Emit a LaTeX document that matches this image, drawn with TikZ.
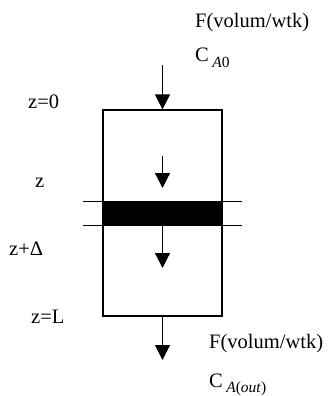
\documentclass[tikz,border=0pt]{standalone}
\usepackage{fontspec}
\setmainfont{Liberation Serif}
\usepackage{tikz}
\usetikzlibrary{positioning,arrows.meta}

\newcommand{\subtxt}[1]{\raisebox{-0.55ex}{\fontsize{15.5}{18}\selectfont #1}}

\begin{document}
\begin{tikzpicture}[x=1pt,y=-1pt,
        lbl/.style={anchor=base west,inner sep=0pt,font=\fontsize{20.5}{24}\selectfont},
        wall/.style={draw,line width=1.2pt},
        arrow/.style={-{Triangle[width=15pt,length=15pt]},line width=1.2pt}]
        \useasboundingbox (0,0) rectangle (329,396);
        \node[wall,rectangle,minimum width=119pt,minimum height=206pt,inner sep=0pt] (tube) at (162.5,213) {};
        \node[rectangle,fill=black,minimum width=119pt,minimum height=23pt,inner sep=0pt] (slab) at (162.5,213.5) {};
        \coordinate (feed) at (162.5,65);
        \coordinate (mid1) at (162.5,156);
        \coordinate (mid2) at (162.5,188);
        \coordinate (mid3) at (162.5,268);
        \coordinate (exit) at (162.5,360);
        % labels
        \node[lbl] (fin) at (195,28) {F(volum/wtk)};
        \node[lbl] (cin) at (195,62) {C\,\subtxt{\textit{A}0}};
        \node[lbl] (z0) at (28,108) {z=0};
        \node[lbl] (zz) at (35,187) {z};
        \node[lbl] (zd) at (9,255) {z+Δ};
        \node[lbl] (zl) at (31,323) {z=L};
        \node[lbl] (fout) at (209,348) {F(volum/wtk)};
        \node[lbl] (cout) at (209,387) {C\,\subtxt{\textit{A}(\textit{out})}};
        % slab edges
        \draw[line width=1.2pt] ([xshift=-20pt]slab.north west) -- ([xshift=20pt]slab.north east);
        \draw[line width=1.2pt] ([xshift=-20pt]slab.south west) -- ([xshift=20pt]slab.south east);
        % flow
        \draw[arrow] (feed) -- (tube.north);
        \draw[arrow] (mid1) -- (mid2);
        \draw[arrow] (slab.south) -- (mid3);
        \draw[arrow] (tube.south) -- (exit);
    \end{tikzpicture}
\end{document}
